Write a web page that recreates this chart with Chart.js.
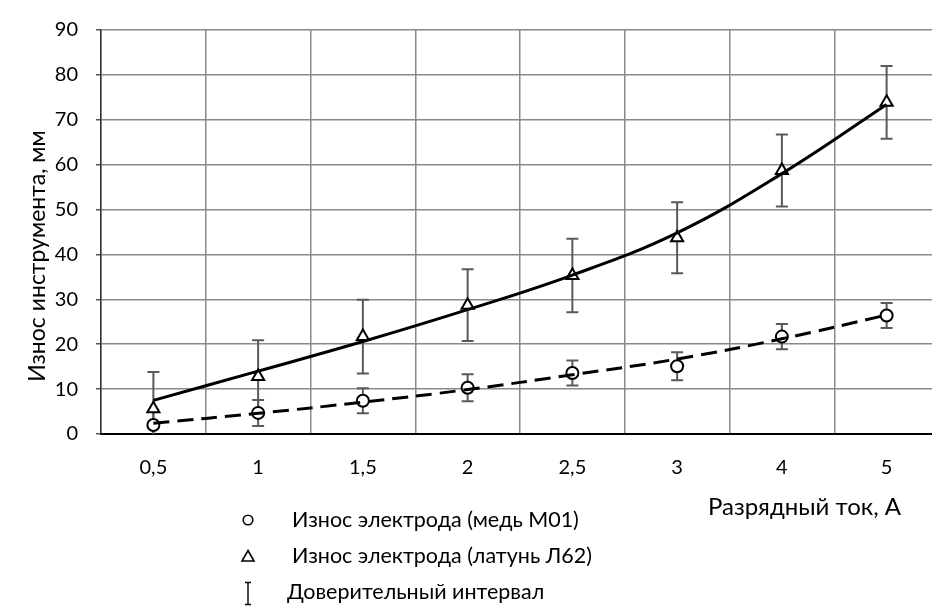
<!DOCTYPE html>
<html>
<head>
<meta charset="utf-8">
<script src="https://cdn.jsdelivr.net/npm/chart.js@4.4.1/dist/chart.umd.min.js"></script>
<style>
  html, body { margin: 0; padding: 0; background: #fff; overflow: hidden; }
  #wrap { position: relative; width: 948px; height: 606px; }
</style>
</head>
<body>
<div id="wrap"><canvas id="myChart" width="948" height="606"></canvas></div>
<script>
// разрядный ток, А
var currents = ['0,5', '1', '1,5', '2', '2,5', '3', '4', '5'];

// износ электрода, медь М01
var copperWear = [2.0, 4.7, 7.4, 10.3, 13.6, 15.1, 21.7, 26.4];
var copperErr = [2.9, 2.9, 2.8, 3.0, 2.8, 3.1, 2.8, 2.8];
var copperTrend = [2.4, 4.6, 7.1, 9.9, 13.2, 16.7, 21.2, 26.5];

// износ электрода, латунь Л62
var brassWear = [5.6, 12.8, 21.7, 28.7, 35.3, 43.7, 58.7, 73.9];
var brassErr = [8.2, 8.1, 8.2, 8.0, 8.2, 7.9, 8.0, 8.1];
var brassTrend = [7.5, 14.0, 20.6, 27.7, 35.4, 44.8, 58.0, 73.4];

var yTicks = [0, 10, 20, 30, 40, 50, 60, 70, 80, 90];

var FONT = 'Lato';

var errorBars = {
  id: 'errorBars',
  beforeDatasetsDraw: function (chart) {
    var ctx = chart.ctx, x = chart.scales.x, y = chart.scales.y, a = chart.chartArea;
    var sets = [[copperWear, copperErr], [brassWear, brassErr]];
    ctx.save();
    ctx.beginPath();
    ctx.rect(a.left, a.top - 10, a.right - a.left, a.bottom - a.top + 10);
    ctx.clip();
    ctx.strokeStyle = '#5a5a5a';
    ctx.lineWidth = 2;
    sets.forEach(function (s) {
      s[0].forEach(function (v, i) {
        var px = x.getPixelForValue(i);
        var top = y.getPixelForValue(v + s[1][i]);
        var bot = y.getPixelForValue(v - s[1][i]);
        ctx.beginPath();
        ctx.moveTo(px, top); ctx.lineTo(px, bot);
        ctx.moveTo(px - 6, top); ctx.lineTo(px + 6, top);
        ctx.moveTo(px - 6, bot); ctx.lineTo(px + 6, bot);
        ctx.stroke();
      });
    });
    ctx.restore();
  }
};

var labelsPlugin = {
  id: 'labelsPlugin',
  afterDraw: function (chart) {
    var ctx = chart.ctx;
    ctx.save();
    ctx.fillStyle = '#000';
    ctx.textBaseline = 'middle';

    // y title
    ctx.save();
    ctx.font = '23px ' + FONT;
    ctx.translate(38, 256);
    ctx.rotate(-Math.PI / 2);
    ctx.textAlign = 'center';
    ctx.fillText('Износ инструмента, мм', 0, 0);
    ctx.restore();

    // x title
    ctx.font = '24px ' + FONT;
    ctx.textAlign = 'right';
    ctx.fillText('Разрядный ток, А', 901, 507);

    // legend
    ctx.font = '21.5px ' + FONT;
    ctx.textAlign = 'left';
    ctx.fillText('Износ электрода (медь М01)', 292, 520);
    ctx.fillText('Износ электрода (латунь Л62)', 292, 556);
    ctx.fillText('Доверительный интервал', 287, 592);

    ctx.strokeStyle = '#000';
    ctx.lineWidth = 1.6;
    ctx.beginPath();
    ctx.arc(248, 520, 4.8, 0, Math.PI * 2);
    ctx.stroke();

    ctx.beginPath();
    ctx.moveTo(248, 550.5); ctx.lineTo(254, 561); ctx.lineTo(242, 561); ctx.closePath();
    ctx.stroke();

    ctx.lineWidth = 1.4;
    ctx.beginPath();
    ctx.moveTo(248, 582); ctx.lineTo(248, 605);
    ctx.moveTo(245, 582.5); ctx.lineTo(251, 582.5);
    ctx.moveTo(245, 604.5); ctx.lineTo(251, 604.5);
    ctx.stroke();
    ctx.restore();
  }
};

var ctx = document.getElementById('myChart').getContext('2d');

var chart = new Chart(ctx, {
  type: 'line',
  data: {
    labels: currents,
    datasets: [{
      label: 'Тренд (латунь Л62)',
      data: brassTrend,
      borderColor: '#000',
      borderWidth: 3,
      pointRadius: 0,
      tension: 0.4,
      order: 0
    }, {
      label: 'Тренд (медь М01)',
      data: copperTrend,
      borderColor: '#000',
      borderWidth: 3,
      borderDash: [16, 8],
      pointRadius: 0,
      tension: 0.4,
      order: 0
    }, {
      label: 'Износ электрода (латунь Л62)',
      data: brassWear,
      showLine: false,
      pointStyle: 'triangle',
      pointRadius: 7,
      pointBorderWidth: 2,
      pointBorderColor: '#000',
      pointBackgroundColor: '#fff',
      order: 1
    }, {
      label: 'Износ электрода (медь М01)',
      data: copperWear,
      showLine: false,
      pointStyle: 'circle',
      pointRadius: 6,
      pointBorderWidth: 2,
      pointBorderColor: '#000',
      pointBackgroundColor: '#fff',
      order: 1
    }]
  },
  options: {
    responsive: false,
    animation: false,
    layout: { padding: { left: 0, top: 25, right: 2, bottom: 0 } },
    plugins: { legend: { display: false }, tooltip: { enabled: false } },
    scales: {
      x: {
        offset: true,
        grid: { offset: true, color: '#8a8a8a', lineWidth: 1.5, drawTicks: false },
        border: { color: '#000', width: 2 },
        ticks: { color: '#000', font: { family: FONT, size: 20 }, padding: 22, maxRotation: 0 },
        afterFit: function (s) { s.height = 606 - 434; }
      },
      y: {
        min: 0, max: 90,
        afterBuildTicks: function (s) { s.ticks = yTicks.map(function (v) { return { value: v }; }); },
        grid: { color: '#8a8a8a', lineWidth: 1.5, tickLength: 5, tickColor: '#555' },
        border: { color: '#333', width: 1.5 },
        ticks: { color: '#000', font: { family: FONT, size: 20 }, padding: 18 },
        afterFit: function (s) { s.width = 101; }
      }
    }
  },
  plugins: [errorBars, labelsPlugin]
});
</script>
</body>
</html>
